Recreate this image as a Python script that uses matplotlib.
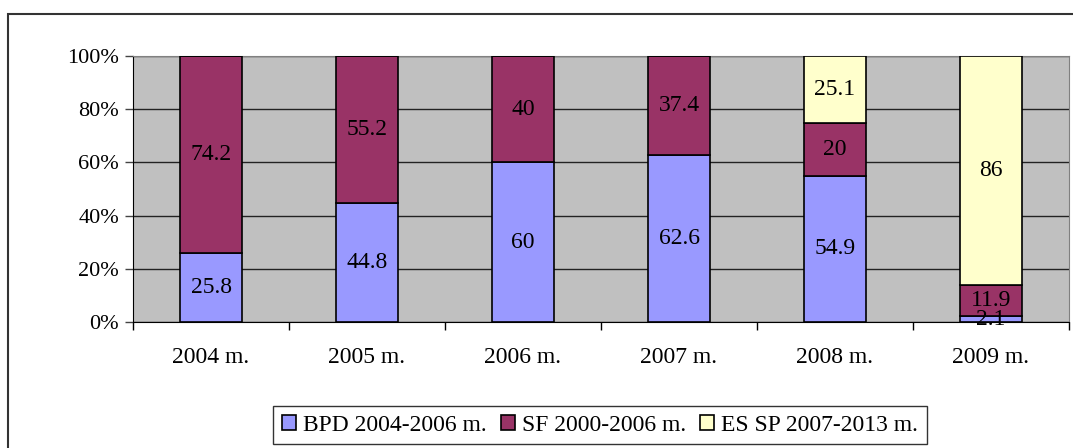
import matplotlib.pyplot as plt
from matplotlib.patches import Rectangle

plt.rcParams['font.family'] = ['Liberation Serif', 'DejaVu Serif']

# data
years = ['2004 m.', '2005 m.', '2006 m.', '2007 m.', '2008 m.', '2009 m.']
bpd = [25.8, 44.8, 60, 62.6, 54.9, 2.1]
sf = [74.2, 55.2, 40, 37.4, 20, 11.9]
essp = [0, 0, 0, 0, 25.1, 86]
labels = ['BPD 2004-2006 m.', 'SF 2000-2006 m.', 'ES SP 2007-2013 m.']
colors = ['#9999FF', '#993366', '#FFFFCC']

fig = plt.figure(figsize=(10.73, 4.48), dpi=100)
ax = fig.add_axes([133 / 1073, 126 / 448, 936 / 1073, 266 / 448])
ax.set_facecolor('#C0C0C0')

# outer chart border
fig.patches.append(Rectangle((8 / 1073, -0.1), 1.1, (448 - 14) / 448 + 0.1,
                             transform=fig.transFigure, fill=False,
                             edgecolor='#333333', linewidth=1.5))

x = range(len(years))
series = [bpd, sf, essp]
bottom = [0] * len(years)
for vals, lab, col in zip(series, labels, colors):
    bars = ax.bar(x, vals, 0.4, bottom=bottom, color=col, edgecolor='black',
                  linewidth=1.2, label=lab, zorder=3)
    for b, v, b0 in zip(bars, vals, bottom):
        if v > 0:
            ax.text(b.get_x() + b.get_width() / 2, b0 + v / 2, f'{v:g}',
                    ha='center', va='center', fontsize=17, zorder=4)
    bottom = [a + v for a, v in zip(bottom, vals)]

ax.set_xlim(-0.5, len(years) - 0.5)
ax.set_ylim(0, 100)
ax.set_yticks(range(0, 101, 20))
ax.set_yticklabels([f'{t}%' for t in range(0, 101, 20)])
ax.yaxis.grid(True, color='#222222', linewidth=1, zorder=1)
ax.set_axisbelow(True)

ax.set_xticks(list(x))
ax.set_xticklabels(years)
ax.set_xticks([i - 0.5 for i in range(len(years) + 1)], minor=True)
ax.tick_params(axis='x', which='major', length=0, pad=18, labelsize=17)
ax.tick_params(axis='x', which='minor', length=6, width=1, direction='out')
ax.tick_params(axis='y', length=6, width=1, color='#444444', pad=4, labelsize=16)

for s in ['top', 'right']:
    ax.spines[s].set_color('#808080')
for s in ['left', 'bottom']:
    ax.spines[s].set_color('black')

leg = fig.legend(loc='center', bbox_to_anchor=(600 / 1073, 23 / 448), ncol=3,
                 fontsize=17, frameon=True, fancybox=False, edgecolor='black',
                 handlelength=0.6, handleheight=0.6, handletextpad=0.3,
                 columnspacing=0.6, borderpad=0.35)
leg.get_frame().set_linewidth(1)

fig.savefig('out.png', dpi=100)
